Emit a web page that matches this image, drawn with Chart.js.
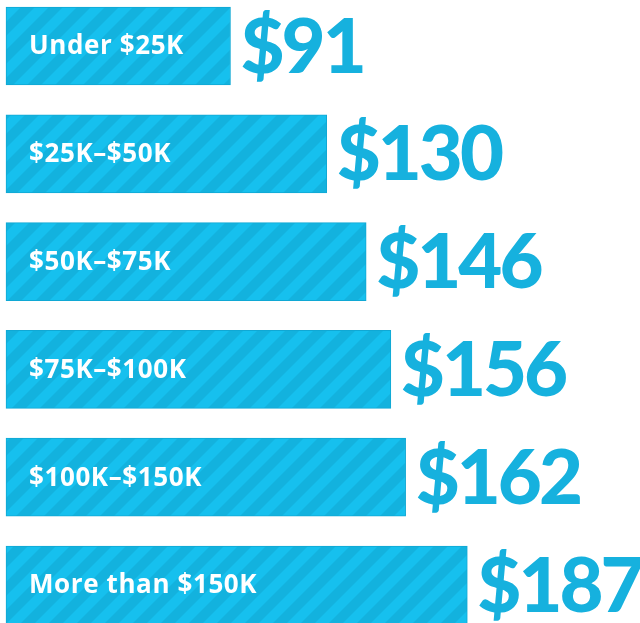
<!DOCTYPE html>
<html lang="en">
<head>
    <meta charset="UTF-8">
    <title>Spending by income</title>
    <script src="https://cdn.jsdelivr.net/npm/chart.js"></script>
    <style>
        html, body {
            margin: 0;
            padding: 0;
            background: #ffffff;
        }
        .chart-container {
            position: relative;
            width: 640px;
            height: 623px;
        }
    </style>
</head>
<body>
    <div class="chart-container">
        <canvas id="incomeChart"></canvas>
    </div>

    <script>
        const incomeGroups = ['Under $25K', '$25K–$50K', '$50K–$75K', '$75K–$100K', '$100K–$150K', 'More than $150K'];
        const spendValues = [91, 130, 146, 156, 162, 187];
        const valueLabels = ['$91', '$130', '$146', '$156', '$162', '$187'];

        // diagonal stripe fill for the bars
        function makeStripes() {
            const size = 28;
            const c = document.createElement('canvas');
            c.width = size;
            c.height = size;
            const g = c.getContext('2d');
            g.fillStyle = '#16c0ee';
            g.fillRect(0, 0, size, size);
            g.fillStyle = '#13b2de';
            g.beginPath();
            g.moveTo(0, size);
            g.lineTo(size / 2, size);
            g.lineTo(size, size / 2);
            g.lineTo(size, 0);
            g.closePath();
            g.fill();
            g.beginPath();
            g.moveTo(0, size / 2);
            g.lineTo(size / 2, 0);
            g.lineTo(0, 0);
            g.closePath();
            g.fill();
            return g.createPattern(c, 'repeat');
        }

        const barLabels = {
            id: 'barLabels',
            afterDatasetsDraw(chart) {
                const ctx = chart.ctx;
                const bars = chart.getDatasetMeta(0).data;
                ctx.save();
                ctx.textBaseline = 'middle';
                bars.forEach((bar, i) => {
                    // category name inside the bar
                    ctx.fillStyle = '#ffffff';
                    ctx.font = 'bold 26px "Open Sans", Lato, sans-serif';
                    ctx.letterSpacing = '0.6px';
                    ctx.fillText(incomeGroups[i], 29, bar.y + 1);
                    // big value to the right
                    ctx.fillStyle = '#16b1de';
                    ctx.font = '900 76px Lato, "Open Sans", sans-serif';
                    ctx.letterSpacing = '-3px';
                    ctx.fillText(valueLabels[i], bar.x + 10, bar.y + 2);
                    ctx.letterSpacing = '0px';
                });
                ctx.restore();
            }
        };

        const ctx = document.getElementById('incomeChart').getContext('2d');
        new Chart(ctx, {
            type: 'bar',
            data: {
                labels: incomeGroups,
                datasets: [{
                    data: spendValues,
                    backgroundColor: makeStripes(),
                    borderColor: '#10a8d4',
                    borderWidth: 1,
                    borderSkipped: false,
                    barThickness: 78,
                    clip: false
                }]
            },
            options: {
                indexAxis: 'y',
                responsive: true,
                maintainAspectRatio: false,
                animation: false,
                layout: {
                    padding: { left: 6, right: 0, top: 46, bottom: 38 }
                },
                scales: {
                    x: { display: false, min: 0, max: 257 },
                    y: { display: false, offset: false }
                },
                plugins: {
                    legend: { display: false },
                    tooltip: { enabled: false }
                }
            },
            plugins: [barLabels]
        });
    </script>
</body>
</html>
